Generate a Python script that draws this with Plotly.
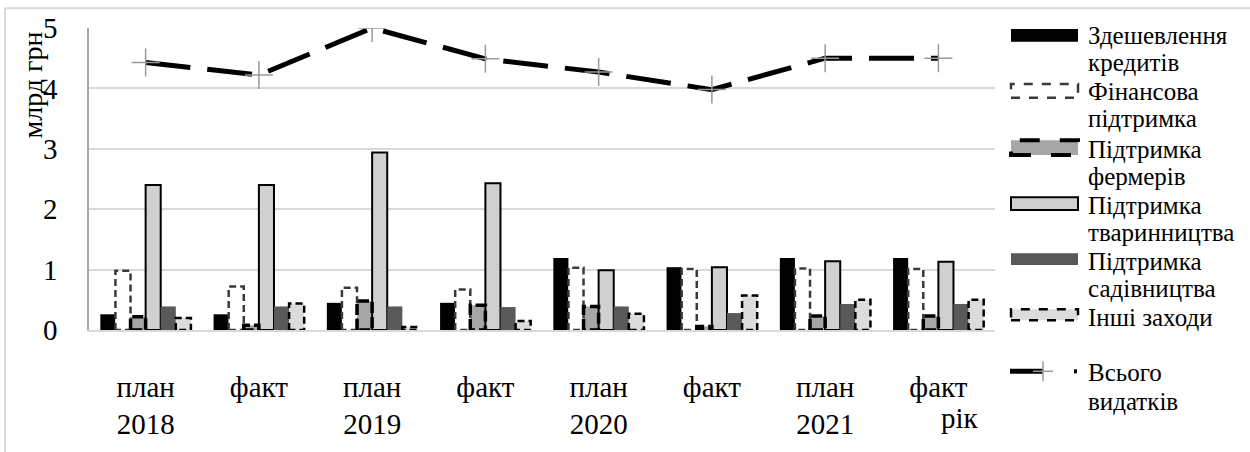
import plotly.graph_objects as go

# ---------------- data ----------------
categories = ["план<br>2018", "факт", "план<br>2019", "факт", "план<br>2020", "факт", "план<br>2021", "факт"]
series_names = ["Здешевлення<br>кредитів", "Фінансова<br>підтримка", "Підтримка<br>фермерів",
                "Підтримка<br>тваринництва", "Підтримка<br>садівництва", "Інші заходи"]
credit_cheap = [0.26, 0.26, 0.45, 0.45, 1.19, 1.04, 1.19, 1.19]
fin_support = [0.98, 0.72, 0.70, 0.67, 1.03, 1.01, 1.02, 1.01]
farmers = [0.22, 0.08, 0.48, 0.41, 0.39, 0.06, 0.23, 0.23]
livestock = [2.40, 2.40, 2.94, 2.43, 0.99, 1.04, 1.14, 1.13]
gardening = [0.39, 0.39, 0.39, 0.38, 0.39, 0.28, 0.43, 0.43]
other = [0.20, 0.44, 0.05, 0.15, 0.27, 0.57, 0.50, 0.50]
total_name = "Всього<br>видатків"
total = [4.43, 4.22, 5.00, 4.49, 4.27, 3.98, 4.50, 4.50]
x_title = "рік"
y_title = "млрд грн"

values = [credit_cheap, fin_support, farmers, livestock, gardening, other]

# ---------------- styles ----------------
FONT = "Tinos"
W, H = 1250, 452
PX0, PX1, PYT, PYB = 89, 995, 28, 335

def px(x):
    return (x - PX0) / (PX1 - PX0)

def py(y):
    return (PYB - y) / (PYB - PYT)

fills = ["#000000", "#ffffff", "#a6a6a6", "#d0d0d0", "#595959", "#dcdcdc"]
solid_lines = [None, None, None, dict(color="#000000", width=2), None, None]
dashed = {1: dict(color="#3a3a3a", width=2.5, dash="7px,4px"),
          2: dict(color="#000000", width=3.5, dash="11px,4px"),
          5: dict(color="#000000", width=2.5, dash="7px,4px")}

n = len(series_names)
group = 0.8
bw = group / n
xs = list(range(len(categories)))

fig = go.Figure()
for i, (name, vals) in enumerate(zip(series_names, values)):
    off = -group / 2 + i * bw
    mk = dict(color=fills[i])
    if solid_lines[i]:
        mk["line"] = solid_lines[i]
    else:
        mk["line"] = dict(width=0)
    fig.add_trace(go.Bar(x=xs, y=vals, name=name, width=bw, offset=off,
                         marker=mk, showlegend=False))

for i, st in dashed.items():
    off = -group / 2 + i * bw
    ox, oy = [], []
    for k, v in zip(xs, values[i]):
        x0 = k + off
        x1 = x0 + bw
        ox += [x0, x0, x1, x1, x0, None]
        oy += [0, v, v, 0, 0, None]
    fig.add_trace(go.Scatter(x=ox, y=oy, mode="lines", line=st,
                             showlegend=False, hoverinfo="skip"))

fig.add_trace(go.Scatter(x=xs, y=total, name=total_name, mode="lines+markers",
                         line=dict(color="#000000", width=5, dash="45px,17px"),
                         marker=dict(symbol="cross-thin", size=20,
                                     line=dict(color="#9a9a9a", width=1.5)),
                         showlegend=False))

# ---------------- custom legend ----------------
shapes = []
annos = []
sx0, sx1 = 1011, 1078
sw_y = [(29, 42), (85, 99), (142, 157), (200, 213), (257, 269), (314, 325)]
sw_line = [dict(width=0), dict(color="#3a3a3a", width=2.5, dash="dash"),
           dict(color="#000000", width=4, dash="longdash"),
           dict(color="#000000", width=2), dict(width=0),
           dict(color="#000000", width=2.5, dash="dash")]
for i in range(n):
    y0, y1 = sw_y[i]
    shapes.append(dict(type="rect", xref="paper", yref="paper",
                       x0=px(sx0), x1=px(sx1), y0=py(y1), y1=py(y0),
                       fillcolor=fills[i], line=sw_line[i], layer="above"))
# total line swatch
shapes.append(dict(type="line", xref="paper", yref="paper", x0=px(1010), x1=px(1043),
                   y0=py(377), y1=py(377), line=dict(color="#000000", width=5)))
shapes.append(dict(type="line", xref="paper", yref="paper", x0=px(1033), x1=px(1053),
                   y0=py(377), y1=py(377), line=dict(color="#9a9a9a", width=1.5)))
shapes.append(dict(type="line", xref="paper", yref="paper", x0=px(1043), x1=px(1043),
                   y0=py(367), y1=py(387), line=dict(color="#9a9a9a", width=1.5)))
shapes.append(dict(type="line", xref="paper", yref="paper", x0=px(1074), x1=px(1077),
                   y0=py(377), y1=py(377), line=dict(color="#000000", width=4)))

text_y = [(36, 63), (93, 120), (152, 179), (208, 236), (265, 293), (322, None)]
for i, name in enumerate(series_names):
    parts = name.split("<br>")
    for j, part in enumerate(parts):
        annos.append(dict(text=part, xref="paper", yref="paper", x=px(1086),
                          y=py(text_y[i][j]), xanchor="left", yanchor="middle",
                          showarrow=False, font=dict(family=FONT, size=25, color="#000")))
for j, part in enumerate(total_name.split("<br>")):
    annos.append(dict(text=part, xref="paper", yref="paper", x=px(1086),
                      y=py([378, 408][j]), xanchor="left", yanchor="middle",
                      showarrow=False, font=dict(family=FONT, size=25, color="#000")))

# axis titles
annos.append(dict(text=y_title, xref="paper", yref="paper", x=px(32), y=py(30),
                  xanchor="center", yanchor="top", textangle=-90, showarrow=False,
                  font=dict(family=FONT, size=28, color="#000")))
annos.append(dict(text=x_title, xref="paper", yref="paper", x=px(960), y=py(424),
                  xanchor="center", yanchor="middle", showarrow=False,
                  font=dict(family=FONT, size=29, color="#000")))

# outer border
shapes.append(dict(type="rect", xref="paper", yref="paper", x0=px(5), x1=px(1260),
                   y0=py(470), y1=py(8), line=dict(color="#d9d9d9", width=2),
                   fillcolor="rgba(0,0,0,0)", layer="below"))

fig.update_layout(
    width=W, height=H,
    margin=dict(l=PX0, r=W - PX1, t=PYT, b=H - PYB),
    paper_bgcolor="#ffffff", plot_bgcolor="#ffffff",
    barmode="overlay",
    font=dict(family=FONT, color="#000000"),
    shapes=shapes, annotations=annos,
    xaxis=dict(tickvals=xs, ticktext=categories, range=[-0.5, len(xs) - 0.5],
               showgrid=False, zeroline=False, showline=True, linecolor="#d9d9d9",
               linewidth=1.5, ticks="", tickfont=dict(family=FONT, size=29, color="#000"),
               ticklabelstandoff=30),
    yaxis=dict(range=[0, 5], dtick=1, showgrid=True, gridcolor="#d9d9d9", gridwidth=1.5,
               zeroline=False, showline=True, linecolor="#a6a6a6", linewidth=1.5,
               ticks="", tickfont=dict(family=FONT, size=29, color="#000"),
               ticklabelstandoff=24),
)

fig.write_html("out.html", config={"displayModeBar": False},
               post_script="document.body.style.margin='0';")
